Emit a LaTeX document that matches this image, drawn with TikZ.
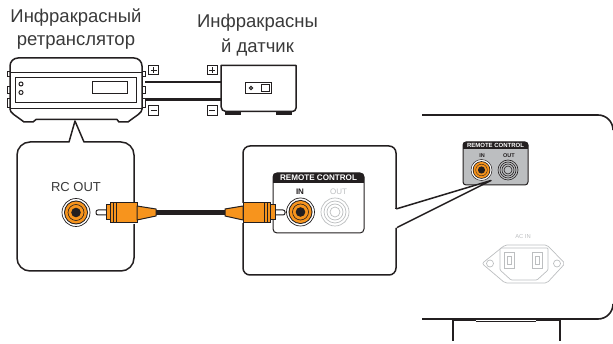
\documentclass[tikz,border=0pt]{standalone}
\usepackage{fontspec}
\setmainfont{Liberation Sans}
\definecolor{ink}{HTML}{231F20}
\definecolor{org}{HTML}{F7941D}
\definecolor{pale}{HTML}{BCBEC0}
\definecolor{txt}{HTML}{3A3A3A}
\tikzset{
  ln/.style={draw=ink,line width=1pt},
  hv/.style={draw=ink,line width=1.5pt,line join=round},
  wire/.style={draw=ink,line width=2.6pt},
  lbl/.style={inner sep=0pt,text=txt,font=\fontsize{18.5}{20}\selectfont,align=center},
  sign/.style={draw=ink,line width=.8pt,fill=white,minimum width=10pt,minimum height=9.5pt,inner sep=0pt},
  gl/.style={draw=pale,line width=.7pt},
}
\newcommand{\jackO}[2]{%
  \fill[white] (#1,#2) circle (14.5);
  \draw[ink,line width=.7pt] (#1,#2) circle (14);
  \fill[ink] (#1,#2) circle (12);
  \fill[org] (#1,#2) circle (11);
  \draw[ink,line width=.6pt] (#1,#2) circle (8);
  \fill[ink] (#1,#2) circle (4.8);
}
\newcommand{\plus}[1]{\draw[ink,line width=.8pt] ([xshift=-3pt]#1.center) -- ([xshift=3pt]#1.center) ([yshift=-3pt]#1.center) -- ([yshift=3pt]#1.center);}
\newcommand{\minus}[1]{\draw[ink,line width=.8pt] ([xshift=-3pt]#1.center) -- ([xshift=3pt]#1.center);}
\begin{document}
\begin{tikzpicture}[x=1pt,y=-1pt]
\useasboundingbox (0,0) rectangle (613,344);
% labels
\node[lbl] (t1) at (76,18) {Инфракрасный};
\node[lbl] (t2) at (76,42) {ретранслятор};
\node[lbl] (t3) at (257.5,23) {Инфракрасны};
\node[lbl] (t4) at (257.5,47) {й датчик};
% wires
\coordinate (rtop) at (145,82); \coordinate (rbot) at (145,99.5);
\coordinate (stop) at (221,82); \coordinate (sbot) at (221,99.5);
\draw[wire] (rtop) -- (stop);
\draw[wire] (rbot) -- (sbot);
% repeater
\foreach \a/\b in {72/77,87/94,99/108}{
  \draw[ln,fill=white] (7,\a) rectangle (10,\b);
  \draw[ln,fill=white] (142,\a) rectangle (145,\b);
}
\draw[hv,fill=white] (10,109) -- (10,66) arc (180:270:8) -- (134,58) arc (270:360:8) -- (142,109)
  .. controls (142,113) and (137,115) .. (128,122) -- (119,122) -- (117,119.5) -- (36,119.5) -- (33,122) -- (24,122)
  .. controls (15,115) and (10,113) .. cycle;
\draw[ln] (10,73) -- (142,73);
\draw[ln] (10,109) -- (142,109);
\draw[ln] (15,78) rectangle (136,103);
\draw[ln] (92,82) rectangle (127,94);
\draw[ln] (21,84) circle (2);
\draw[ln] (21,92.5) circle (2);
% signs
\node[sign] (pa) at (153.5,70) {}; \plus{pa}
\node[sign] (ma) at (153.5,110.5) {}; \minus{ma}
\node[sign] (pb) at (212,70) {}; \plus{pb}
\node[sign] (mb) at (212,110.5) {}; \minus{mb}
% sensor
\fill[ink] (225,110) rectangle (241,115.5);
\fill[ink] (276,110) rectangle (292,115.5);
\draw[hv,fill=white] (221,65.5) -- (296,65.5) -- (296,108) arc (0:90:3.5) -- (226,111.5) arc (90:180:5) -- cycle;
\draw[ln] (245,82.5) rectangle (271,94);
\draw[ln] (251,88) circle (1.6);
\draw[ln] (261,84.5) rectangle (269,92);
% left callout
\draw[hv,fill=white] (75,121) -- (84,142) -- (121,142) arc (-90:0:13) -- (134,258) arc (0:90:13) -- (30,271) arc (90:180:13) -- (17,155) arc (180:270:13) -- (69,142) -- cycle;
\node[inner sep=0pt,text=txt,font=\fontsize{13}{14}\selectfont] (rc) at (76,187) {RC OUT};
\jackO{76}{212.5}
\fill[white] (131,202) rectangle (137,224);
% right callout
\draw[hv,fill=white] (396,209) -- (396,153) arc (0:-90:7) -- (250,146) arc (-90:-180:7) -- (243,268) arc (180:90:7) -- (389,275) arc (90:0:7) -- (396,228);
\fill[white] (240,203) rectangle (246,223);
% panel in callout
\draw[ln,fill=white,rounded corners=4pt] (273,173) rectangle (364,233);
\fill[ink,rounded corners=3pt] (273,173) rectangle (364,183);
\fill[ink] (273,179) rectangle (364,183);
\node[inner sep=0pt,text=white,font=\fontsize{8.1}{9}\selectfont\bfseries] (rem) at (318.5,178) {REMOTE CONTROL};
\node[inner sep=0pt,text=ink,font=\fontsize{8}{9}\selectfont\bfseries] (inl) at (300,192) {IN};
\node[inner sep=0pt,text=pale,font=\fontsize{8}{9}\selectfont] (outl) at (338.5,192) {OUT};
\jackO{300.5}{212}
\foreach \r in {14,11,8,5}{\draw[gl] (335,212) circle (\r);}
% device
\draw[draw=ink,line width=1.6pt] (422,115) -- (598,115) arc (-90:0:15) ;
\draw[draw=ink,line width=1.6pt] (422,319) -- (598,319) arc (90:0:15);
\draw[draw=ink,line width=1.6pt] (453,341) -- (453,319);
\draw[draw=ink,line width=1.6pt] (560,341) -- (560,319);
\draw[draw=ink,line width=2.5pt] (453,319.5) -- (476,319.5) (536,319.5) -- (560,319.5);
\draw[draw=ink,line width=.7pt] (476,321) -- (536,321);
% small panel
\draw[ln,fill=pale,rounded corners=3pt] (463,142) rectangle (528,185);
\fill[ink,rounded corners=2.5pt] (463,142) rectangle (528,149);
\fill[ink] (463,146) rectangle (528,149);
\node[inner sep=0pt,text=white,font=\fontsize{6}{7}\selectfont\bfseries] (rem2) at (495.5,145.5) {REMOTE CONTROL};
\node[inner sep=0pt,text=ink,font=\fontsize{5.5}{6}\selectfont\bfseries] (in2) at (482,155.5) {IN};
\node[inner sep=0pt,text=ink,font=\fontsize{5.5}{6}\selectfont\bfseries] (out2) at (509,155.5) {OUT};
\fill[white] (481.5,170) circle (10.5);
\draw[ink,line width=.5pt] (481.5,170) circle (10.5);
\fill[ink] (481.5,170) circle (8.8);
\fill[org] (481.5,170) circle (8);
\draw[ink,line width=.4pt] (481.5,170) circle (5.8);
\fill[ink] (481.5,170) circle (3.6);
\foreach \r in {10,8,6,4}{\draw[ink,line width=.6pt] (508,170) circle (\r);}
% pointer of right callout
\draw[hv,fill=white] (396,209) -- (491,180.5) -- (396,228);
\fill[white] (393,210) -- (397,209.5) -- (397,227.5) -- (393,228) -- cycle;
\draw[hv] (396,209) -- (396,208);
% AC IN
\node[inner sep=0pt,text=pale,font=\fontsize{5.8}{7}\selectfont] (ac) at (523,237) {AC IN};
\draw[gl,rounded corners=2pt] (482,263.5) -- (505,245) -- (547,245) -- (565,263.5) -- (547,283) -- (505,283) -- cycle;
\draw[gl,rounded corners=1pt] (500,248) -- (548,248) -- (548,270) -- (537,280) -- (511,280) -- (500,270) -- cycle;
\draw[gl] (490,263.5) circle (3.5);
\draw[gl] (557,263.5) circle (3.5);
\draw[gl] (504,252) rectangle (514,268);
\draw[gl] (507,256) rectangle (511,264);
\draw[gl] (532,252) rectangle (542,268);
\draw[gl] (535,256) rectangle (539,264);
% cable and plugs
\coordinate (cL) at (156,212.5); \coordinate (cR) at (226,212.5);
\draw[draw=ink,line width=5pt] (cL) -- (cR);
% left plug
\draw[ln,fill=white,rounded corners=2pt] (96,210) rectangle (108,215);
\draw[ln,fill=org] (106,205) rectangle (111,220);
\draw[ln,fill=org] (110,203) rectangle (137,223);
\draw[ln] (113,203) -- (113,223) (116,203) -- (116,223);
\draw[ln,fill=org,line join=round] (137,206) -- (156,209) -- (156,216) -- (137,220) -- cycle;
% right plug
\draw[ln,fill=white,rounded corners=2pt] (285,210) rectangle (273,215);
\draw[ln,fill=org] (275,205) rectangle (270,220);
\draw[ln,fill=org] (243,203) rectangle (270,223);
\draw[ln] (267,203) -- (267,223) (264,203) -- (264,223);
\draw[ln,fill=org,line join=round] (243,206) -- (225,209) -- (225,216) -- (243,220) -- cycle;
\end{tikzpicture}
\end{document}
